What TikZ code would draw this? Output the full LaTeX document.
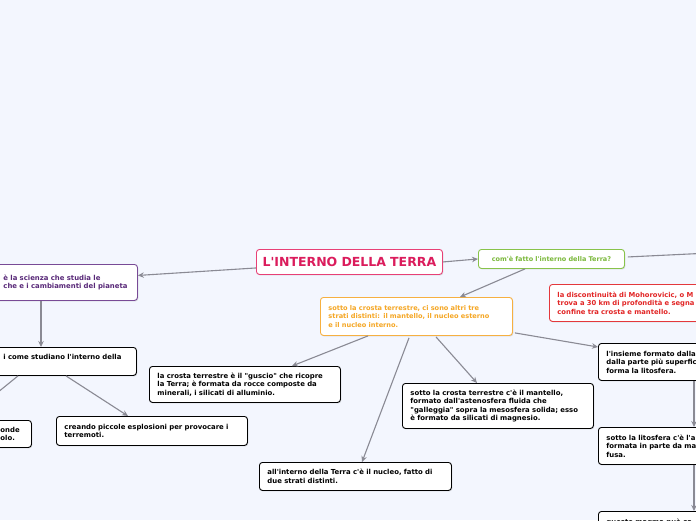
\documentclass[tikz,border=0pt]{standalone}
\usepackage{fontspec}
\newfontfamily\dv{DejaVu Sans}
\usetikzlibrary{arrows.meta,calc,shadows}
\definecolor{bgc}{RGB}{243,246,254}
\definecolor{pinkc}{RGB}{219,28,92}
\definecolor{pinkb}{RGB}{232,64,118}
\definecolor{purpc}{RGB}{88,40,120}
\definecolor{purpb}{RGB}{120,74,150}
\definecolor{greenc}{RGB}{122,184,58}
\definecolor{greenb}{RGB}{136,195,74}
\definecolor{orangec}{RGB}{245,166,35}
\definecolor{orangeb}{RGB}{246,176,65}
\definecolor{redc}{RGB}{226,38,38}
\definecolor{redb}{RGB}{228,56,60}
\definecolor{linec}{RGB}{138,138,148}
\tikzset{
  box/.style={draw=black, fill=white, line width=0.9pt, rounded corners=3pt,
    anchor=north west, inner xsep=8pt, inner ysep=2pt, align=left,
    font=\dv\fontsize{6.9}{8.5}\selectfont\bfseries,
    drop shadow={opacity=0.25, shadow xshift=0.8pt, shadow yshift=-1pt}},
  titlebox/.style={box, draw=pinkb, text=pinkc, align=center,
    font=\dv\fontsize{12.5}{14}\selectfont\bfseries},
  purplebox/.style={box, draw=purpb, text=purpc},
  greenbox/.style={box, draw=greenb, text=greenc, align=center,
    font=\dv\fontsize{6.5}{8.5}\selectfont\bfseries},
  orangebox/.style={box, draw=orangeb, text=orangec,
    font=\dv\fontsize{6.6}{8.5}\selectfont\bfseries},
  redbox/.style={box, draw=redb, text=redc,
    font=\dv\fontsize{6.8}{8.5}\selectfont\bfseries},
  conn/.style={draw=linec, line width=1.1pt},
  arr/.style={conn, -{Stealth[length=6pt,width=5.5pt]}}
}
\begin{document}
\begin{tikzpicture}[x=1pt,y=-1pt]
\fill[bgc] (0,0) rectangle (696,520);
\useasboundingbox (0,0) rectangle (696,520);
\clip (0,0) rectangle (696,520);

\node[titlebox, minimum width=186, minimum height=25, text width=178, inner xsep=4pt] (title) at (256,249) {L'INTERNO DELLA TERRA};

\node[purplebox, minimum width=142, minimum height=36, text width=126] (purple) at (-5,264) {è la scienza che studia le\\che e i cambiamenti del pianeta};

\node[box, minimum width=141, minimum height=28, text width=125] (come) at (-5,347) {i come studiano l'interno della\\ \mbox{}};

\node[box, minimum width=191, minimum height=29, text width=175] (creando) at (56,416) {creando piccole esplosioni per provocare i\\terremoti.};

\node[box, minimum width=36, minimum height=27, text width=26, inner xsep=5pt] (onde) at (-5,420) {onde\\olo.};

\node[greenbox, minimum width=146, minimum height=19, text width=134, inner xsep=6pt] (green) at (478,249) {com'è fatto l'interno della Terra?};

\node[orangebox, minimum width=192, minimum height=38, text width=176] (orange) at (320,297) {sotto la crosta terrestre, ci sono altri tre\\strati distinti: il mantello, il nucleo esterno\\e il nucleo interno.};

\node[redbox, minimum width=170, minimum height=37, text width=154] (red) at (549,284) {la discontinuità di Mohorovicic, o M\\trova a 30 km di profondità e segna\\confine tra crosta e mantello.};

\node[box, minimum width=191, minimum height=36, text width=175] (crust) at (149,366) {la crosta terrestre è il "guscio" che ricopre\\la Terra; è formata da rocce composte da\\minerali, i silicati di alluminio.};

\node[box, minimum width=191, minimum height=45, text width=175] (mantle) at (402,383) {sotto la crosta terrestre c'è il mantello,\\formato dall'astenosfera fluida che\\"galleggia" sopra la mesosfera solida; esso\\è formato da silicati di magnesio.};

\node[box, minimum width=192, minimum height=28, text width=176] (nucleus) at (259,462) {all'interno della Terra c'è il nucleo, fatto di\\due strati distinti.};

\node[box, minimum width=120, minimum height=37, text width=104] (lito) at (598,343) {l'insieme formato dalla\\dalla parte più superfic\\forma la litosfera.};

\node[box, minimum width=120, minimum height=37, text width=104] (asteno) at (598,427) {sotto la litosfera c'è l'a\\formata in parte da ma\\fusa.};

\node[box, minimum width=120, minimum height=37, text width=104] (magma) at (598,511) {questo magma può sa\\ \mbox{}\\ \mbox{}};

\coordinate (offL) at (-24,410);
\coordinate (offR) at (710,253);

\draw[arr] ($(title.west)+(0,6)$) -- ($(purple.east)+(0,-7)$);
\draw[arr] ($(purple.south west)+(46,0)$) -- ($(come.north west)+(46,0)$);
\draw[arr] ($(come.south west)+(71,0)$) -- ($(creando.north west)+(72,0)$);
\draw[conn] ($(come.south west)+(23,0)$) -- (offL);
\draw[arr] (title.east) -- (green.west);
\draw[conn] ($(green.east)+(3,-2)$) -- (offR);
\draw[arr] ($(green.south west)+(47,0)$) -- ($(orange.north west)+(140,0)$);
\draw[arr] ($(orange.south west)+(48,0)$) -- ($(crust.north west)+(143,0)$);
\draw[arr] ($(orange.south west)+(89,2)$) -- ($(nucleus.north west)+(103,0)$);
\draw[arr] ($(orange.south west)+(116,1)$) -- ($(mantle.north west)+(75,0)$);
\draw[arr] ($(orange.south east)+(2,-3)$) -- ($(lito.north west)+(0,4)$);
\draw[arr] ($(lito.south west)+(96,0)$) -- ($(asteno.north west)+(96,0)$);
\draw[arr] ($(asteno.south west)+(96,0)$) -- ($(magma.north west)+(96,0)$);
\end{tikzpicture}
\end{document}
